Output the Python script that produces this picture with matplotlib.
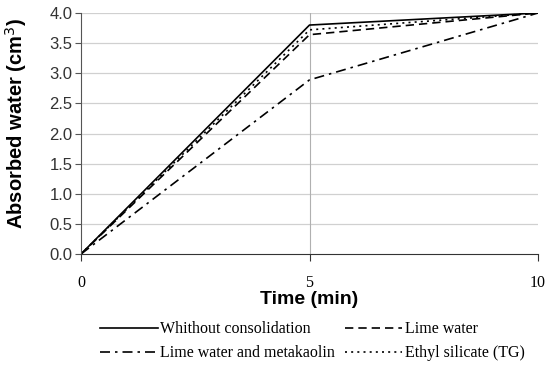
import matplotlib
matplotlib.use("Agg")
import matplotlib.pyplot as plt

time = [0, 5, 10]
without = [0.0, 3.80, 4.0]
lime = [0.0, 3.64, 4.0]
lime_meta = [0.0, 2.89, 4.0]
ethyl = [0.0, 3.72, 4.0]
labels = ["Whithout consolidation", "Lime water", "Lime water and metakaolin", "Ethyl silicate (TG)"]
yticks = [0.0, 0.5, 1.0, 1.5, 2.0, 2.5, 3.0, 3.5, 4.0]
xticks = [0, 5, 10]

fig = plt.figure(figsize=(5.53, 3.70), dpi=100)
ax = fig.add_axes([81/553, 1-254/370, (538-81)/553, (254-13)/370])

h1, = ax.plot(time, without, color="black", lw=1.2, linestyle="-")
h2, = ax.plot(time, lime, color="black", lw=1.2, linestyle=(0, (5, 3)))
h3, = ax.plot(time, lime_meta, color="black", lw=1.2, linestyle=(0, (6, 3, 1.5, 3)))
h4, = ax.plot(time, ethyl, color="black", lw=1.2, linestyle=(0, (1.2, 2.5)))

ax.set_xlim(0, 10)
ax.set_ylim(0, 4.0)
ax.set_yticks(yticks)
ax.set_yticklabels([f"{v:.1f}" for v in yticks], family="Liberation Sans", fontsize=12, color="#333333")
ax.set_xticks(xticks)
ax.set_xticklabels([str(v) for v in xticks], family="Liberation Serif", fontsize=11.5)
for y in yticks[1:]:
    ax.axhline(y, color="#d0d0d0", lw=0.9, zorder=0)
ax.axvline(5, color="#b0b0b0", lw=0.8, zorder=0)

for s in ["top", "right"]:
    ax.spines[s].set_visible(False)
ax.spines["left"].set_color("#555555")
ax.spines["bottom"].set_color("#333333")
ax.tick_params(axis="y", length=4, color="#555555", pad=2)
ax.tick_params(axis="x", length=5, color="#333333", pad=10)

ax.set_ylabel("Absorbed water (cm$^3$)", family="Liberation Sans", fontweight="bold", fontsize=14.5)
ax.yaxis.set_label_coords(-0.114, 0.54)
ax.set_xlabel("Time (min)", family="Liberation Sans", fontweight="bold", fontsize=14, labelpad=0)

fig.legend([h1, h3, h2, h4], [labels[0], labels[2], labels[1], labels[3]],
           loc="upper center", bbox_to_anchor=(0.565, 0.17),
           ncol=2, frameon=False, prop={"family": "Liberation Serif", "size": 11.5},
           handlelength=3.6, handletextpad=0.15, columnspacing=0.6, labelspacing=0.5)

fig.savefig("out.png", dpi=100)
